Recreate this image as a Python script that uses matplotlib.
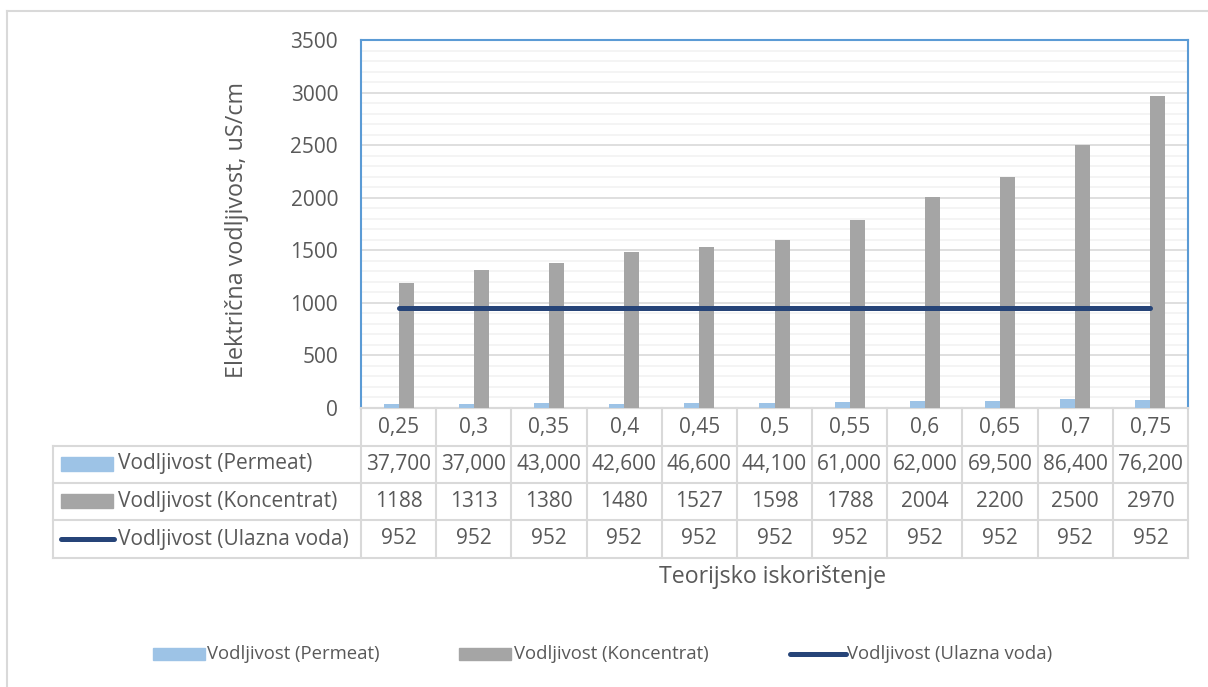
import matplotlib.pyplot as plt
from matplotlib.patches import Rectangle
from matplotlib.lines import Line2D
import numpy as np

plt.rcParams['font.family'] = ['Open Sans', 'DejaVu Sans']

# Data
categories = ['0,25', '0,3', '0,35', '0,4', '0,45', '0,5', '0,55', '0,6', '0,65', '0,7', '0,75']
permeat = [37.7, 37.0, 43.0, 42.6, 46.6, 44.1, 61.0, 62.0, 69.5, 86.4, 76.2]
koncentrat = [1188, 1313, 1380, 1480, 1527, 1598, 1788, 2004, 2200, 2500, 2970]
ulazna = [952] * 11
series_names = ['Vodljivost (Permeat)', 'Vodljivost (Koncentrat)', 'Vodljivost (Ulazna voda)']

c_perm = '#9DC3E6'
c_konc = '#A5A5A5'
c_line = '#264478'
c_text = '#595959'
c_grid = '#D9D9D9'

W, H = 1208, 687
fig = plt.figure(figsize=(W / 100, H / 100), dpi=100)

# outer chart border
fig.add_artist(Line2D([7 / W, 7 / W], [0, 1 - 11 / H], color=c_grid, lw=1.5))
fig.add_artist(Line2D([7 / W, 1], [1 - 11 / H, 1 - 11 / H], color=c_grid, lw=1.5))

ax = fig.add_axes([361 / W, 1 - 408 / H, 827 / W, 368 / H])
x = np.arange(len(categories))
width = 0.2
ax.bar(x - width / 2, permeat, width, color=c_perm, zorder=3)
ax.bar(x + width / 2, koncentrat, width, color=c_konc, zorder=3)
ax.plot(x, ulazna, color=c_line, lw=3.6, solid_capstyle='round', zorder=4)

ax.set_xlim(-0.5, len(categories) - 0.5)
ax.set_ylim(0, 3500)
ax.set_yticks(np.arange(0, 3501, 500))
ax.set_yticks(np.arange(0, 3501, 100), minor=True)
ax.grid(axis='y', which='major', color=c_grid, lw=1.2, zorder=0)
ax.grid(axis='y', which='minor', color='#F2F2F2', lw=1.2, zorder=0)
ax.set_xticks([])
ax.tick_params(axis='y', which='both', length=0, labelsize=15, labelcolor=c_text, pad=16.5)
for s in ['left', 'right', 'top']:
    ax.spines[s].set_color('#5B9BD5')
    ax.spines[s].set_linewidth(1.5)
ax.spines['bottom'].set_color(c_grid)
ax.spines['bottom'].set_linewidth(1.5)
fig.text(237 / W, 1 - 230 / H, 'Električna vodljivost, uS/cm', rotation=90,
         ha='center', va='center', fontsize=16.8, color=c_text)

# data table below the plot
trans = ax.get_xaxis_transform()
px = 1 / 368  # one pixel in axes units (vertical)
rows = [-38 * px, -75 * px, -112 * px, -150 * px]
tops = [0] + rows[:-1]
xl = -0.5 - (361 - 53) / 827 * len(categories)  # left edge of the label column in data units
tk = dict(color=c_grid, lw=1.5, clip_on=False, transform=trans)
ax.plot([-0.5, len(categories) - 0.5], [0, 0], **tk)
for r in rows:
    ax.plot([xl, len(categories) - 0.5], [r, r], **tk)
for i in range(len(categories) + 1):
    ax.plot([i - 0.5, i - 0.5], [0, rows[-1]], **tk)
ax.plot([xl, xl], [rows[0], rows[-1]], **tk)

ts = dict(transform=trans, ha='center', va='center', fontsize=15, color=c_text, clip_on=False)
for i, c in enumerate(categories):
    ax.text(i, (tops[0] + rows[0]) / 2, c, **ts)
table_vals = [['{:.3f}'.format(v).replace('.', ',') for v in permeat],
              [str(v) for v in koncentrat],
              [str(v) for v in ulazna]]
for r, vals in enumerate(table_vals):
    yc = (tops[r + 1] + rows[r + 1]) / 2
    for i, v in enumerate(vals):
        ax.text(i, yc, v, **ts)

# row labels with keys (figure pixel coords)
row_centers_px = [464, 501, 539]
for k, (name, yc) in enumerate(zip(series_names, row_centers_px)):
    yf = 1 - yc / H
    if k < 2:
        fig.add_artist(Rectangle((61 / W, yf - 7 / H), 52 / W, 14 / H,
                                 color=[c_perm, c_konc][k]))
    else:
        fig.add_artist(Line2D([61 / W, 114 / W], [yf, yf], color=c_line, lw=3.6,
                              solid_capstyle='round'))
    fig.text(118 / W, yf, name, ha='left', va='center', fontsize=15, color=c_text)

fig.text(773 / W, 1 - 577 / H, 'Teorijsko iskorištenje', ha='center', va='center',
         fontsize=16.7, color=c_text)

# legend
leg_items = [(153, 207, 'bar', c_perm, series_names[0]),
             (459, 514, 'bar', c_konc, series_names[1]),
             (790, 847, 'line', c_line, series_names[2])]
yl = 1 - 654 / H
for x0, xt, kind, col, name in leg_items:
    if kind == 'bar':
        fig.add_artist(Rectangle((x0 / W, yl - 6 / H), 52 / W, 12 / H, color=col))
    else:
        fig.add_artist(Line2D([x0 / W, (x0 + 56) / W], [yl, yl], color=col, lw=3.6,
                              solid_capstyle='round'))
    fig.text(xt / W, yl, name, ha='left', va='center', fontsize=13.3, color=c_text)

fig.savefig('out.png', dpi=100)
